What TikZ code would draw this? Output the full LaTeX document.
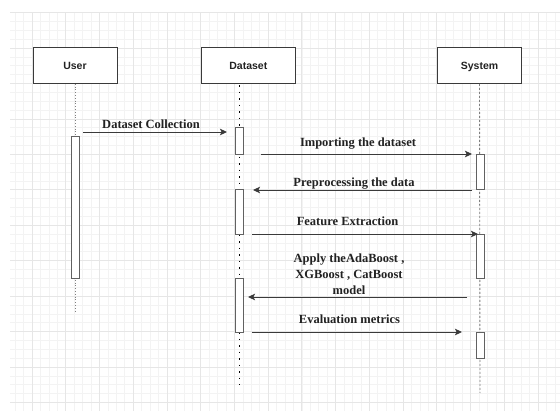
\documentclass[tikz,border=0pt]{standalone}
\usepackage{fontspec}
\setmainfont{Liberation Serif}
\newfontfamily\boxfont{Liberation Sans}
\usetikzlibrary{arrows.meta}
\definecolor{gridminor}{HTML}{F3F3F3}
\definecolor{gridmajor}{HTML}{E6E6E6}
\definecolor{ink}{HTML}{222222}
\definecolor{edge}{HTML}{3A3A3A}
\tikzset{
  gminor/.style={draw=gridminor, line width=0.6pt},
  gmajor/.style={draw=gridmajor, line width=0.7pt},
  actor/.style={draw=edge, line width=1pt, fill=white, inner sep=0pt,
    minimum width=84pt, minimum height=35.5pt, text height=7.5pt, text depth=0pt,
    font=\boxfont\bfseries\fontsize{10.5}{12}\selectfont, text=ink},
  bar/.style={draw=edge!80, line width=1pt, fill=white, inner sep=0pt, minimum width=8pt},
  userline/.style={draw=gray, line width=1pt, dash pattern=on 1pt off 1.8pt},
  dataline/.style={draw=black, line width=1.7pt, dash pattern=on 1.5pt off 5pt},
  sysline/.style={draw=gray, line width=0.9pt, dash pattern=on 2pt off 2pt},
  msg/.style={draw=edge, line width=1pt, -{Stealth[length=7pt,width=6.5pt,inset=1.5pt]}},
  msglabel/.style={font=\bfseries\fontsize{12.5}{15.8}\selectfont, text=ink,
    align=center, inner sep=0pt, anchor=base},
}
\begin{document}
\begin{tikzpicture}[x=1pt, y=-1pt]
\useasboundingbox (0,0) rectangle (560,410);
\fill[white] (0,0) rectangle (560,410);

% background grid
\begin{scope}
  \clip (10,12.5) rectangle (560,410);
  \foreach \i in {0,...,65} \draw[gminor] ({15.14+8.433*\i},12.5) -- ++(0,398);
  \foreach \i in {0,...,45} \draw[gminor] (10,{12.56+8.86*\i}) -- ++(550,0);
  \foreach \j in {0,...,16} \draw[gmajor] ({32+33.73*\j},12.5) -- ++(0,398);
  \foreach \j in {0,...,11} \draw[gmajor] (10,{12.56+35.44*\j}) -- ++(550,0);
\end{scope}

% participants
\node[actor] (user) at (75,65.5) {User};
\node[actor, minimum width=93.5pt] (dataset) at (248.3,65.4) {Dataset};
\node[actor] (system) at (479.5,65.5) {System};

% lifeline ends
\coordinate (userEnd) at (75,313);
\coordinate (dataTop) at (239.5,85);
\coordinate (dataEnd) at (239.5,385);
\coordinate (sysEnd) at (480,393);

\draw[userline] (user.south) -- (userEnd);
\draw[dataline] (dataTop) -- (dataEnd);
\draw[sysline] (system.south) -- (sysEnd);

% activation bars
\node[bar, minimum height=142pt] (userAct) at (75,207) {};
\node[bar, minimum height=26.5pt] (dataAct1) at (239.6,140.8) {};
\node[bar, minimum height=45pt] (dataAct2) at (239.6,211.5) {};
\node[bar, minimum height=54pt] (dataAct3) at (239.6,305) {};
\node[bar, minimum height=35pt] (sysAct1) at (480,171.5) {};
\node[bar, minimum height=44pt] (sysAct2) at (480,256) {};
\node[bar, minimum height=26pt] (sysAct3) at (480,345) {};

% message end points
\coordinate (m1s) at (83,132);   \coordinate (m1e) at (227,132);
\coordinate (m2s) at (261,154);  \coordinate (m2e) at (472,154);
\coordinate (m3s) at (472,190);  \coordinate (m3e) at (253,190);
\coordinate (m4s) at (252,234);  \coordinate (m4e) at (478,234);
\coordinate (m5s) at (467,297);  \coordinate (m5e) at (248,297);
\coordinate (m6s) at (252,332);  \coordinate (m6e) at (462,332);

\draw[msg] (m1s) -- (m1e);
\draw[msg] (m2s) -- (m2e);
\draw[msg] (m3s) -- (m3e);
\draw[msg] (m4s) -- (m4e);
\draw[msg] (m5s) -- (m5e);
\draw[msg] (m6s) -- (m6e);

% message labels (multi-line label sits on the baseline of its last line)
\node[msglabel] (l1) at (151,128.3) {Dataset Collection};
\node[msglabel] (l2) at (358,146) {Importing the dataset};
\node[msglabel] (l3) at (354,186) {Preprocessing the data};
\node[msglabel] (l4) at (347.5,225.7) {Feature Extraction};
\node[msglabel] (l5) at (349,294.3) {Apply theAdaBoost ,\\XGBoost , CatBoost\\model};
\node[msglabel] (l6) at (349.5,323.3) {Evaluation metrics};
\end{tikzpicture}
\end{document}
